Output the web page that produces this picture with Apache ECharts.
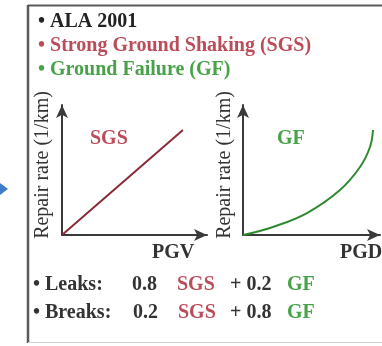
<!DOCTYPE html>
<html>
<head>
<meta charset="utf-8">
<script src="https://cdn.jsdelivr.net/npm/echarts@6/dist/echarts.min.js"></script>
<style>
html,body{margin:0;padding:0;background:#fff;}
#c{width:382px;height:346px;}
</style>
</head>
<body>
<div id="c"></div>
<script>
// Data (arbitrary units)
var sgsX = [0, 8.34];
var sgsY = [0, 8.08];
var gfX = [0, 2.19, 4.67, 7.08, 8.54, 9.27, 9.49];
var gfY = [0, 0.62, 1.69, 3.46, 5.23, 6.77, 8.08];
var headerLines = ['ALA 2001', 'Strong Ground Shaking (SGS)', 'Ground Failure (GF)'];
var xNames = ['PGV', 'PGD'];
var yName = 'Repair rate (1/km)';
var leaksW = ['0.8', '0.2'];
var breaksW = ['0.2', '0.8'];

var FONT = 'Liberation Serif';
var RED = '#bb4d5a';
var GREEN = '#48a248';
var DARK = '#333333';

function pair(xs, ys){ return xs.map(function(x,i){return [x, ys[i]];}); }
function txt(x, y, s, color, opts){
  opts = opts || {};
  return {type:'text', x:x, y:y, rotation: opts.rotation || 0, z: 10,
    style:{text:s, fill:color, fontSize:(opts.size||20), fontFamily:FONT,
      fontWeight: opts.weight || 'bold',
      align: opts.align || 'left', verticalAlign: opts.va || 'middle'}};
}

var axisLine = {show:true, symbol:['none','arrow'], symbolSize:[9,13],
  lineStyle:{color:'#3a3a3a', width:2}};
function xa(i){ return {type:'value', gridIndex:i, min:0, max:10, axisLine:axisLine,
  axisTick:{show:false}, axisLabel:{show:false}, splitLine:{show:false}}; }
function ya(i){ return {type:'value', gridIndex:i, min:0, max:10, axisLine:axisLine,
  axisTick:{show:false}, axisLabel:{show:false}, splitLine:{show:false}}; }

var graphics = [
  // frame
  {type:'line', shape:{x1:28, y1:5, x2:28, y2:343}, style:{stroke:'#5a5a5a', lineWidth:2.5}},
  {type:'line', shape:{x1:28, y1:5.5, x2:382, y2:5.5}, style:{stroke:'#5a5a5a', lineWidth:2}},
  {type:'line', shape:{x1:28, y1:342.5, x2:382, y2:342.5}, style:{stroke:'#d0d0d0', lineWidth:1}},
  // blue arrow at left edge
  {type:'polygon', shape:{points:[[-4,180],[8,189],[-4,198]]}, style:{fill:'#3d7cc9'}},
  // header
  txt(38, 22, '\u2022 ' + headerLines[0], '#222'),
  txt(38, 46, '\u2022 ' + headerLines[1], RED),
  txt(38, 70, '\u2022 ' + headerLines[2], GREEN),
  // plot labels
  txt(90, 139, 'SGS', RED),
  txt(277, 139, 'GF', GREEN),
  txt(43, 165, yName, DARK, {rotation:Math.PI/2, align:'center', weight:'normal'}),
  txt(225, 165, yName, DARK, {rotation:Math.PI/2, align:'center', weight:'normal'}),
  txt(152, 253, xNames[0], DARK),
  txt(340, 253, xNames[1], DARK),
  // formulas
  txt(33, 285, '\u2022 Leaks:', DARK),
  txt(132, 285, leaksW[0], DARK),
  txt(177, 285, 'SGS', RED),
  txt(230, 285, '+ ' + leaksW[1], DARK),
  txt(287, 285, 'GF', GREEN),
  txt(33, 313, '\u2022 Breaks:', DARK),
  txt(133, 313, breaksW[0], DARK),
  txt(178, 313, 'SGS', RED),
  txt(230, 313, '+ ' + breaksW[1], DARK),
  txt(287, 313, 'GF', GREEN)
];

var chart = echarts.init(document.getElementById('c'), null, {renderer:'canvas'});
chart.setOption({
  animation:false,
  backgroundColor:'#fff',
  grid:[
    {left:62, top:105, width:145, height:130},
    {left:243, top:105, width:137, height:130}
  ],
  xAxis:[xa(0), xa(1)],
  yAxis:[ya(0), ya(1)],
  series:[
    {type:'line', xAxisIndex:0, yAxisIndex:0, data:pair(sgsX, sgsY), showSymbol:false,
      lineStyle:{color:'#8a2a36', width:2}},
    {type:'line', xAxisIndex:1, yAxisIndex:1, data:pair(gfX, gfY), showSymbol:false, smooth:0.4,
      lineStyle:{color:'#2f8a2f', width:2}}
  ],
  graphic:graphics
});
</script>
</body>
</html>
